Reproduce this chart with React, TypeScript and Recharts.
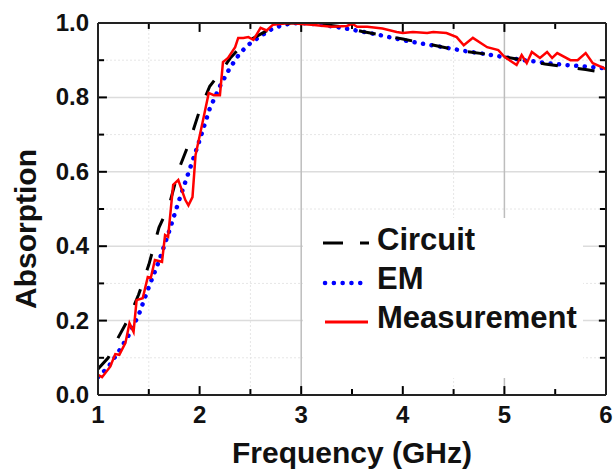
import { LineChart, Line, XAxis, YAxis, ReferenceLine, Legend } from "recharts";

const FONT = '"Liberation Sans", Arial, Helvetica, sans-serif';
const AXIS = "#222";

const freqMajor = [1, 2, 3, 4, 5, 6];
const freqMinor = [1.5, 2.5, 3.5, 4.5, 5.5];
const absMajor = [0, 0.2, 0.4, 0.6, 0.8, 1.0];
const absMinor = [0.1, 0.3, 0.5, 0.7, 0.9];
const majorGridX = [3, 5];
const minorGridX = [1.5, 2.5, 4.5];
const majorGridY = [0.2, 0.4, 0.6, 0.8];
const minorGridY = [0.1, 0.3, 0.5, 0.7, 0.9];

// simulated curves
const simFreq = [
  1.0, 1.1, 1.2, 1.3, 1.4, 1.5, 1.6, 1.7, 1.8, 1.9, 2.0, 2.1, 2.2, 2.3, 2.4, 2.5, 2.6, 2.7, 2.8, 2.9, 3.0,
  3.2, 3.4, 3.6, 3.8, 4.0, 4.2, 4.4, 4.6, 4.8, 5.0, 5.2, 5.4, 5.6, 5.8, 6.0,
];
const circuitAbs = [
  0.07, 0.1, 0.155, 0.205, 0.27, 0.35, 0.45, 0.51, 0.61, 0.68, 0.765, 0.83, 0.865, 0.905, 0.935, 0.955,
  0.97, 0.985, 0.995, 1.0, 1.0, 0.996, 0.99, 0.977, 0.967, 0.957, 0.946, 0.935, 0.924, 0.917, 0.909, 0.9,
  0.89, 0.882, 0.875, 0.866,
];
const emAbs = [
  0.048, 0.075, 0.115, 0.16, 0.215, 0.29, 0.36, 0.44, 0.525, 0.605, 0.685, 0.77, 0.83, 0.88, 0.92, 0.946,
  0.965, 0.982, 0.993, 0.999, 1.0, 0.995, 0.987, 0.977, 0.966, 0.954, 0.944, 0.935, 0.925, 0.917, 0.908,
  0.9, 0.893, 0.887, 0.883, 0.878,
];

// measured curve
const measFreq = [
  1.0, 1.04, 1.12, 1.17, 1.21, 1.27, 1.31, 1.35, 1.38, 1.44, 1.49, 1.52, 1.56, 1.63, 1.66, 1.69, 1.74, 1.79,
  1.86, 1.89, 1.93, 1.96, 2.03, 2.09, 2.14, 2.2, 2.23, 2.28, 2.35, 2.38, 2.43, 2.48, 2.53, 2.6, 2.66, 2.72,
  2.89, 3.0, 3.1, 3.3, 3.45, 3.5, 3.55, 3.65, 3.8, 3.94, 4.0, 4.1, 4.24, 4.3, 4.43, 4.53, 4.6, 4.69, 4.83,
  4.94, 5.0, 5.12, 5.17, 5.22, 5.27, 5.35, 5.42, 5.47, 5.52, 5.65, 5.72, 5.8, 5.87, 5.98, 6.0,
];
const measAbs = [
  0.054, 0.048, 0.076, 0.11, 0.108, 0.14, 0.193, 0.17, 0.255, 0.26, 0.317, 0.315, 0.363, 0.358, 0.43, 0.425,
  0.565, 0.578, 0.524, 0.51, 0.532, 0.645, 0.734, 0.812, 0.806, 0.806, 0.895, 0.906, 0.935, 0.96, 0.96,
  0.962, 0.955, 0.987, 0.98, 0.995, 1.0, 0.997, 0.995, 0.99, 0.992, 0.998, 0.99, 0.99, 0.985, 0.976, 0.973,
  0.976, 0.973, 0.976, 0.973, 0.962, 0.94, 0.96, 0.935, 0.927, 0.909, 0.887, 0.914, 0.892, 0.922, 0.906,
  0.922, 0.906, 0.919, 0.9, 0.9, 0.919, 0.892, 0.879, 0.875,
];

const circuit = simFreq.map((f, i) => ({ f, a: circuitAbs[i] }));
const em = simFreq.map((f, i) => ({ f, a: emAbs[i] }));
const measurement = measFreq.map((f, i) => ({ f, a: measAbs[i] }));

const X0 = 1;
const X1 = 6;
const Y0 = 0;
const Y1 = 1;
// inward tick lengths, in axis units (~9px major / ~6px minor)
const TX_MAJOR = 0.024;
const TX_MINOR = 0.016;
const TY_MAJOR = 0.088;
const TY_MINOR = 0.06;

const labelStyle = { fontFamily: FONT, fontWeight: 700, fill: "#111" };

function BottomTick(props: any) {
  const { x, y, payload } = props;
  return (
    <text x={x} y={y + 28} textAnchor="middle" fontSize={24} style={labelStyle}>
      {payload.value}
    </text>
  );
}

function LeftTick(props: any) {
  const { x, y, payload } = props;
  return (
    <text x={x - 9} y={y + 8} textAnchor="end" fontSize={24} style={labelStyle}>
      {payload.value.toFixed(1)}
    </text>
  );
}

function LegendBox() {
  const t = { ...labelStyle, fontSize: 31 };
  return (
    <svg width={280} height={160} style={{ display: "block", background: "#fff" }}>
      <line x1={20} x2={66} y1={25} y2={25} stroke="#000" strokeWidth={3} strokeDasharray="20 17" />
      <text x={74} y={32} style={t}>Circuit</text>
      <line
        x1={22}
        x2={58}
        y1={65}
        y2={65}
        stroke="#0000ff"
        strokeWidth={4.5}
        strokeLinecap="round"
        strokeDasharray="0.1 8.7"
      />
      <text x={74} y={71} style={t}>EM</text>
      <line x1={22} x2={65} y1={104} y2={104} stroke="#ff0000" strokeWidth={3} />
      <text x={74} y={110} style={t}>Measurement</text>
    </svg>
  );
}

const tickSeg = (key: string, a: { x: number; y: number }, b: { x: number; y: number }) => (
  <ReferenceLine key={key} xAxisId="x" yAxisId="y" segment={[a, b]} stroke="#000" strokeWidth={2} ifOverflow="visible" />
);

export default function App() {
  return (
    <div style={{ position: "absolute", left: 0, top: 0, background: "#fff" }}>
      <LineChart width={614} height={470} margin={{ top: 22, right: 7, bottom: 0, left: 0 }}>
        {minorGridY.map((v) => (
          <ReferenceLine key={`my${v}`} xAxisId="x" yAxisId="y" y={v} stroke="#e6e6e6" strokeDasharray="2 2" />
        ))}
        {minorGridX.map((v) => (
          <ReferenceLine key={`mx${v}`} xAxisId="x" yAxisId="y" x={v} stroke="#e6e6e6" strokeDasharray="2 2" />
        ))}
        {majorGridY.map((v) => (
          <ReferenceLine key={`gy${v}`} xAxisId="x" yAxisId="y" y={v} stroke="#dcdcdc" strokeWidth={1.5} />
        ))}
        {majorGridX.map((v) => (
          <ReferenceLine key={`gx${v}`} xAxisId="x" yAxisId="y" x={v} stroke="#bdbdbd" strokeWidth={1.5} />
        ))}

        {/* inward ticks on all four sides of the frame */}
        {freqMajor.map((v) => tickSeg(`bM${v}`, { x: v, y: Y0 }, { x: v, y: Y0 + TX_MAJOR }))}
        {freqMinor.map((v) => tickSeg(`bm${v}`, { x: v, y: Y0 }, { x: v, y: Y0 + TX_MINOR }))}
        {freqMajor.map((v) => tickSeg(`tM${v}`, { x: v, y: Y1 }, { x: v, y: Y1 - TX_MAJOR }))}
        {freqMinor.map((v) => tickSeg(`tm${v}`, { x: v, y: Y1 }, { x: v, y: Y1 - TX_MINOR }))}
        {absMajor.map((v) => tickSeg(`lM${v}`, { x: X0, y: v }, { x: X0 + TY_MAJOR, y: v }))}
        {absMinor.map((v) => tickSeg(`lm${v}`, { x: X0, y: v }, { x: X0 + TY_MINOR, y: v }))}
        {absMajor.map((v) => tickSeg(`rM${v}`, { x: X1, y: v }, { x: X1 - TY_MAJOR * 0.8, y: v }))}
        {absMinor.map((v) => tickSeg(`rm${v}`, { x: X1, y: v }, { x: X1 - TY_MINOR, y: v }))}

        <XAxis
          xAxisId="x"
          dataKey="f"
          type="number"
          domain={[X0, X1]}
          allowDataOverflow
          ticks={freqMajor}
          interval={0}
          height={75}
          tickSize={0}
          tickMargin={0}
          tickLine={false}
          axisLine={{ stroke: AXIS, strokeWidth: 2 }}
          tick={BottomTick}
          label={{
            content: ({ viewBox }: any) => (
              <text
                x={viewBox.x + viewBox.width / 2}
                y={viewBox.y + 68}
                textAnchor="middle"
                fontSize={30}
                style={labelStyle}
              >
                Frequency (GHz)
              </text>
            ),
          }}
        />
        <XAxis
          xAxisId="top"
          orientation="top"
          type="number"
          domain={[X0, X1]}
          allowDataOverflow
          height={1}
          tick={false}
          tickLine={false}
          axisLine={{ stroke: AXIS, strokeWidth: 2 }}
        />
        <YAxis
          yAxisId="y"
          type="number"
          domain={[Y0, Y1]}
          allowDataOverflow
          ticks={absMajor}
          interval={0}
          width={98}
          tickSize={0}
          tickMargin={0}
          tickLine={false}
          axisLine={{ stroke: AXIS, strokeWidth: 2 }}
          tick={LeftTick}
          label={{
            content: ({ viewBox }: any) => {
              const cx = viewBox.x + 36;
              const cy = viewBox.y + viewBox.height / 2 + 20;
              return (
                <text
                  x={cx}
                  y={cy}
                  textAnchor="middle"
                  fontSize={30}
                  transform={`rotate(-90 ${cx} ${cy})`}
                  style={labelStyle}
                >
                  Absorption
                </text>
              );
            },
          }}
        />
        <YAxis
          yAxisId="right"
          orientation="right"
          type="number"
          domain={[Y0, Y1]}
          allowDataOverflow
          width={1}
          tick={false}
          tickLine={false}
          axisLine={{ stroke: AXIS, strokeWidth: 2 }}
        />

        <Line
          xAxisId="x"
          yAxisId="y"
          data={em}
          dataKey="a"
          name="EM"
          type="linear"
          stroke="#0000ff"
          strokeWidth={4.5}
          strokeLinecap="round"
          strokeDasharray="0.1 8.5"
          dot={false}
          activeDot={false}
          isAnimationActive={false}
        />
        <Line
          xAxisId="x"
          yAxisId="y"
          data={circuit}
          dataKey="a"
          name="Circuit"
          type="linear"
          stroke="#000"
          strokeWidth={3}
          strokeDasharray="17 20"
          dot={false}
          activeDot={false}
          isAnimationActive={false}
        />
        <Line
          xAxisId="x"
          yAxisId="y"
          data={measurement}
          dataKey="a"
          name="Measurement"
          type="linear"
          stroke="#ff0000"
          strokeWidth={2.5}
          dot={false}
          activeDot={false}
          isAnimationActive={false}
        />

        <Legend
          layout="vertical"
          align="center"
          verticalAlign="middle"
          wrapperStyle={{ left: 303, top: 218, width: 280, height: 160 }}
          content={() => <LegendBox />}
        />
      </LineChart>
    </div>
  );
}
